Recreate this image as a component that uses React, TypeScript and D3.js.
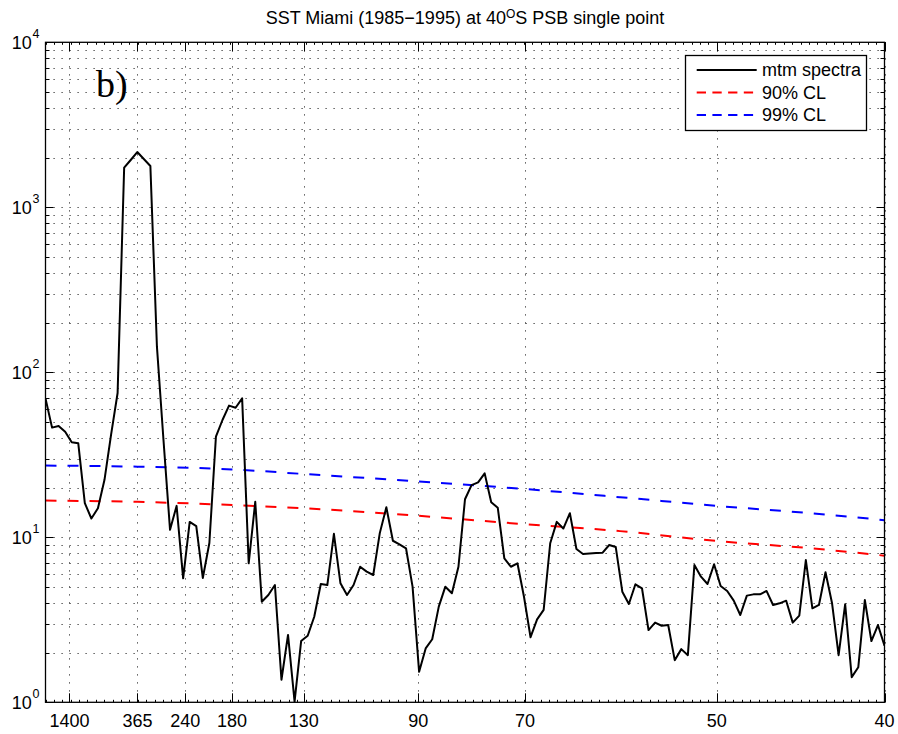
import React from 'react';
import * as d3 from 'd3';

// multitaper spectrum, one value per frequency bin (bin width 1/5120 cpd)
const DF = 1 / 5120;
const SPECTRUM = [
  69.5, 46.2, 47.3, 43.6, 37.7, 37.1, 16.1, 13.0, 15.0, 22.3,
  41.7, 74.9, 1738, 1935, 2163, 1963, 1779, 143, 38.9, 11.1,
  15.5, 5.64, 12.4, 11.7, 5.67, 9.23, 40.7, 51.4, 62.8, 61.0,
  69.5, 6.96, 16.4, 4.07, 4.47, 5.14, 1.37, 2.56, 1.01, 2.35,
  2.53, 3.30, 5.21, 5.14, 10.5, 5.26, 4.47, 5.14, 6.63, 6.19,
  5.91, 10.6, 15.2, 9.53, 9.07, 8.58, 5.02, 1.53, 2.12, 2.41,
  3.80, 5.02, 4.58, 6.63, 17.0, 20.7, 21.5, 24.4, 16.3, 15.1,
  7.46, 6.63, 6.96, 4.36, 2.48, 3.18, 3.63, 9.20, 12.4, 11.3,
  14.0, 8.49, 7.92, 7.98, 8.03, 8.07, 8.98, 8.73, 4.68, 3.94,
  5.19, 4.91, 2.74, 3.04, 2.91, 2.94, 1.80, 2.10, 1.93, 6.79,
  5.77, 5.21, 6.86, 5.07, 4.73, 4.13, 3.38, 4.43, 4.51, 4.51,
  4.73, 3.89, 3.98, 4.13, 3.04, 3.35, 7.28, 3.71, 3.89, 6.14,
  3.98, 1.93, 3.93, 1.42, 1.63, 4.17, 2.35, 2.94, 2.20,
];

// confidence levels read at a few frequencies (cycles/day)
const CL_FREQ = [0, 0.00274, 0.00556, 0.00769, 0.01111, 0.01429, 0.01712, 0.02, 0.02279, 0.025];
const CL90 = [16.7, 16.4, 15.7, 15.0, 13.5, 12.0, 10.9, 9.5, 8.58, 7.74];
const CL99 = [27.2, 26.8, 25.8, 24.2, 21.8, 19.6, 17.5, 15.5, 14.0, 12.7];

// x ticks labelled by period in days
const PERIOD_TICKS = [1400, 365, 240, 180, 130, 90, 70, 50, 40];
const DECADES = [0, 1, 2, 3, 4];

const LEGEND = [
  { label: 'mtm spectra', color: '#000', dash: null },
  { label: '90% CL', color: '#ff0000', dash: '9.3,6.4' },
  { label: '99% CL', color: '#0000ff', dash: '9.3,6.4' },
];

const W = 898;
const H = 734;
const FONT = '"Liberation Sans", Arial, Helvetica, sans-serif';

export default function App() {
  const left = 45.5, right = 884.5, top = 42.3, bottom = 702.3;

  const x = d3.scaleLinear().domain([0, 0.025]).range([left, right]);
  const y = d3.scaleLog().domain([1, 1e4]).range([bottom, top]);

  const spectrumLine = d3.line<number>()
    .x((_, i) => x(i * DF))
    .y(d => y(d));

  const clLine = d3.line<number>()
    .x((_, i) => x(CL_FREQ[i]))
    .y(d => y(d))
    .curve(d3.curveMonotoneX);

  const minorY: number[] = [];
  DECADES.slice(0, -1).forEach(k => {
    for (let m = 2; m <= 9; m++) minorY.push(m * Math.pow(10, k));
  });
  const gridY = [...minorY, 10, 100, 1000];
  const minorX = d3.range(0, 0.025 + 1e-9, 0.00025);

  return (
    <svg width={W} height={H} style={{ position: 'absolute', left: 0, top: 0, background: '#fff' }}>
      <defs>
        <clipPath id="plot-clip">
          <rect x={left} y={top} width={right - left} height={bottom - top} />
        </clipPath>
      </defs>
      <rect width={W} height={H} fill="#fff" />

      {/* dotted grid */}
      <g stroke="#333" strokeWidth={1} strokeDasharray="1.2,6.8">
        {gridY.map(v => (
          <line key={'gy' + v} x1={left} x2={right} y1={Math.round(y(v)) + 0.5} y2={Math.round(y(v)) + 0.5} />
        ))}
        {PERIOD_TICKS.map(p => (
          <line key={'gx' + p} x1={Math.round(x(1 / p)) + 0.5} x2={Math.round(x(1 / p)) + 0.5} y1={top} y2={bottom} />
        ))}
      </g>

      {/* ticks */}
      <g stroke="#000" strokeWidth={1}>
        {minorY.map(v => {
          const yy = Math.round(y(v)) + 0.5;
          return (
            <g key={'my' + v}>
              <line x1={left} x2={left + 4} y1={yy} y2={yy} />
              <line x1={right} x2={right - 4} y1={yy} y2={yy} />
            </g>
          );
        })}
        {DECADES.map(k => {
          const yy = Math.round(y(Math.pow(10, k))) + 0.5;
          return (
            <g key={'My' + k}>
              <line x1={left} x2={left + 8} y1={yy} y2={yy} />
              <line x1={right} x2={right - 8} y1={yy} y2={yy} />
            </g>
          );
        })}
        {minorX.map(f => {
          const xx = Math.round(x(f)) + 0.5;
          return (
            <g key={'mx' + f}>
              <line x1={xx} x2={xx} y1={bottom} y2={bottom - 2.5} />
              <line x1={xx} x2={xx} y1={top} y2={top + 2.5} />
            </g>
          );
        })}
        {PERIOD_TICKS.map(p => {
          const xx = Math.round(x(1 / p)) + 0.5;
          return (
            <g key={'Mx' + p}>
              <line x1={xx} x2={xx} y1={bottom} y2={bottom - 9} />
              <line x1={xx} x2={xx} y1={top} y2={top + 9} />
            </g>
          );
        })}
      </g>

      {/* data */}
      <g clipPath="url(#plot-clip)" fill="none" strokeWidth={2} strokeLinejoin="round">
        <path d={clLine(CL90) || ''} stroke="#ff0000" strokeDasharray="11,11" />
        <path d={clLine(CL99) || ''} stroke="#0000ff" strokeDasharray="11,11" />
        <path d={spectrumLine(SPECTRUM) || ''} stroke="#000" />
      </g>

      {/* axes box */}
      <rect x={left} y={top} width={right - left} height={bottom - top} fill="none" stroke="#000" strokeWidth={1.3} />

      {/* y labels */}
      <g fontFamily={FONT} fill="#000">
        {DECADES.map(k => {
          const yy = y(Math.pow(10, k));
          return (
            <g key={'yl' + k}>
              <text x={31.7} y={yy + 6.5} fontSize={18} textAnchor="end">10</text>
              <text x={32.5} y={yy - 4} fontSize={12.5} textAnchor="start">{k}</text>
            </g>
          );
        })}
        {PERIOD_TICKS.map(p => (
          <text key={'xl' + p} x={x(1 / p)} y={727} fontSize={18} textAnchor="middle">{p}</text>
        ))}
      </g>

      {/* title */}
      <text x={(left + right) / 2} y={24} fontFamily={FONT} fontSize={18} textAnchor="middle" fill="#000">
        SST Miami (1985−1995) at 40
        <tspan fontSize={12} dy={-6}>O</tspan>
        <tspan dy={6}>S PSB single point</tspan>
      </text>

      {/* panel label */}
      <text x={96} y={97} fontFamily='"Liberation Serif", "Times New Roman", serif' fontSize={38} fill="#000">b)</text>

      {/* legend */}
      <g>
        <rect x={685.5} y={55.5} width={181} height={75} fill="#fff" stroke="#000" strokeWidth={1.3} />
        {LEGEND.map((item, i) => {
          const ly = 70 + i * 22.5;
          return (
            <g key={item.label}>
              <line x1={696.7} x2={756.7} y1={ly} y2={ly} stroke={item.color} strokeWidth={2}
                strokeDasharray={item.dash || undefined} />
              <text x={762} y={ly} dy="0.35em" fontFamily={FONT} fontSize={18} fill="#000">{item.label}</text>
            </g>
          );
        })}
      </g>
    </svg>
  );
}
